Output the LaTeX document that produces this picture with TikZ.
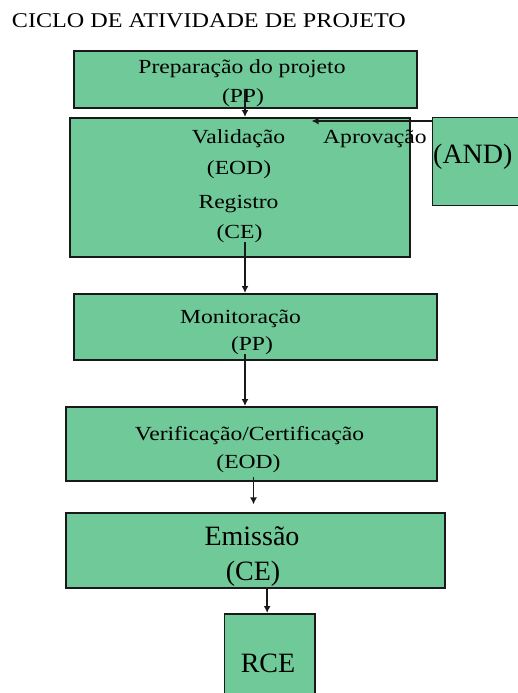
\documentclass[tikz,border=0pt]{standalone}
\usepackage{fontspec}
\setmainfont{Liberation Serif}
\usepackage{graphicx}
\usetikzlibrary{arrows.meta}
\definecolor{boxgreen}{RGB}{112,201,152}
\definecolor{edgegray}{RGB}{25,25,25}
\newcommand\wtxt[1]{\scalebox{1.18}[1]{#1}}
\newcommand\ttxt[1]{\scalebox{1.15}[1]{#1}}
\begin{document}
\begin{tikzpicture}[x=1pt,y=-1pt,
  box/.style={draw=edgegray, fill=boxgreen, line width=1.8pt, anchor=north west, inner sep=0pt},
  small/.style={anchor=base, inner sep=0pt, font=\fontsize{20}{24}\selectfont},
  big/.style={anchor=base, inner sep=0pt, font=\fontsize{28}{32}\selectfont},
  arr/.style={-{Latex[length=7pt,width=7pt]}, line width=1.6pt, draw=edgegray}]
\useasboundingbox (0,0) rectangle (518,693);
\clip (0,0) rectangle (518,693);
% title
\node[anchor=base west, inner sep=0pt, font=\fontsize{21}{25}\selectfont] (title) at (11.7,28) {\ttxt{CICLO DE ATIVIDADE DE PROJETO}};
% boxes
\node[box, minimum width=343pt, minimum height=57pt] (pp) at (73,50) {};
\node[box, minimum width=340pt, minimum height=139pt] (val) at (69,117) {};
\node[box, minimum width=86pt, minimum height=88pt] (and) at (431.5,116.5) {};
\node[box, minimum width=363pt, minimum height=66pt] (mon) at (73,293) {};
\node[box, minimum width=371pt, minimum height=74pt] (ver) at (65,406) {};
\node[box, minimum width=379pt, minimum height=75pt] (emi) at (65,512) {};
\node[box, minimum width=90.5pt, minimum height=100pt] (rce) at (223.5,613) {};
% texts
\node[small] (ppA) at (242,74) {\wtxt{Preparação do projeto}};
\node[small] (ppB) at (243,102) {\wtxt{(PP)}};
\node[small] (valA) at (238.5,143) {\wtxt{Validação}};
\node[small] (valB) at (239,174) {\wtxt{(EOD)}};
\node[small] (valC) at (238.5,208) {\wtxt{Registro}};
\node[small] (valD) at (239.5,238) {\wtxt{(CE)}};
\node[small, anchor=base west] (aprov) at (323,143) {\wtxt{Aprovação}};
\node[big, anchor=base west] (andT) at (433,163) {(AND)};
\node[small] (monA) at (240.5,323) {\wtxt{Monitoração}};
\node[small] (monB) at (252,350) {\wtxt{(PP)}};
\node[small] (verA) at (249.5,440) {\wtxt{Verificação/Certificação}};
\node[small] (verB) at (248.5,468) {\wtxt{(EOD)}};
\node[big] (emiA) at (252,545) {Emissão};
\node[big] (emiB) at (253,580) {(CE)};
\node[big] (rceT) at (268,672) {RCE};
% connectors
\coordinate (p2v) at ([xshift=2pt,yshift=7pt]ppB.center);
\draw[arr] (p2v) -- (p2v |- val.north);
\draw[arr] ([yshift=-4.5pt]and.north west) -- ++(-120,0);
\coordinate (v2m) at ([xshift=5.5pt]valD.south);
\draw[arr] (v2m) -- (v2m |- mon.north);
\coordinate (m2v) at ([xshift=-7pt]monB.south);
\draw[arr] (m2v) -- (m2v |- ver.north);
\coordinate (v2e) at ([xshift=5pt,yshift=-5pt]verB.south);
\draw[arr] (v2e) -- ++(0,27);
\coordinate (e2r) at ([xshift=-2.5pt]rce.north);
\draw[arr] (e2r |- emi.south) -- (e2r);
\end{tikzpicture}
\end{document}
